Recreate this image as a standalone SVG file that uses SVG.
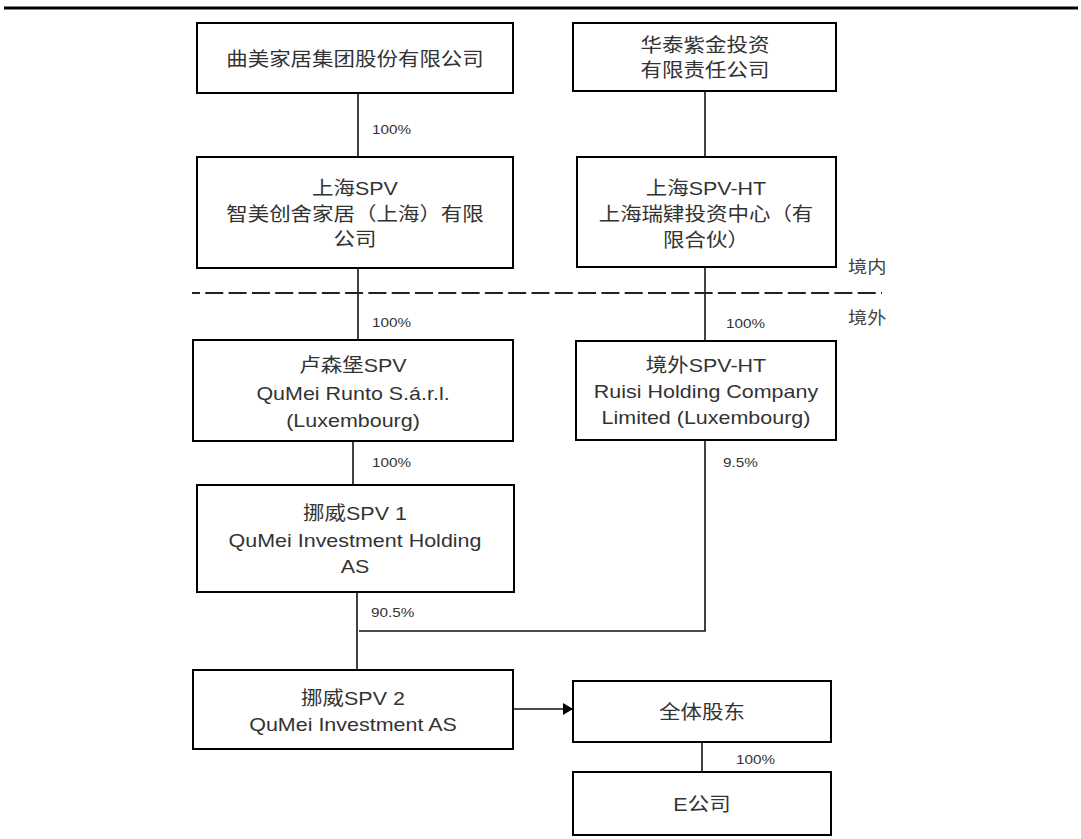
<svg xmlns="http://www.w3.org/2000/svg" width="1081" height="839" viewBox="0 0 1081 839">
<defs>
<style>
.box{fill:#fff;stroke:#000;stroke-width:2}
.ln{fill:none;stroke:#111;stroke-width:1.6}
.t{font-family:"Liberation Sans","Noto Sans CJK SC",sans-serif;font-size:19px;fill:#333;text-anchor:middle}
.p{font-family:"Liberation Sans","Noto Sans CJK SC",sans-serif;font-size:13.5px;fill:#333}
.z{font-family:"Noto Sans CJK SC",sans-serif;font-size:17px;fill:#444}
</style>
<marker id="ah" markerWidth="10" markerHeight="12" refX="10" refY="6" orient="auto" markerUnits="userSpaceOnUse">
<path d="M0,0 L10,6 L0,12 Z" fill="#000"/>
</marker>
</defs>
<rect width="1081" height="839" fill="#fff"/>
<line x1="4" y1="8" x2="1078" y2="8" stroke="#000" stroke-width="3"/>

<g id="connectors">
<line class="ln" x1="358" y1="93" x2="358" y2="157"/>
<line class="ln" x1="705" y1="91" x2="705" y2="157"/>
<line class="ln" x1="358" y1="268" x2="358" y2="340"/>
<line class="ln" x1="705" y1="267" x2="705" y2="341"/>
<line class="ln" x1="353" y1="441" x2="353" y2="485"/>
<polyline class="ln" points="705,440 705,631 359,631"/>
<line class="ln" x1="357" y1="592" x2="357" y2="670"/>
<line class="ln" x1="513" y1="709" x2="573" y2="709" marker-end="url(#ah)"/>
<line class="ln" x1="702" y1="742" x2="702" y2="772"/>
<line x1="192" y1="293" x2="882" y2="293" stroke="#222" stroke-width="2" stroke-dasharray="18 5.3" stroke-dashoffset="10"/>
<text class="p" transform="translate(372,134) scale(1.13,1)">100%</text>
<text class="p" transform="translate(372,327) scale(1.13,1)">100%</text>
<text class="p" transform="translate(726,328) scale(1.13,1)">100%</text>
<text class="p" transform="translate(372,467) scale(1.13,1)">100%</text>
<text class="p" transform="translate(723,467) scale(1.13,1)">9.5%</text>
<text class="p" transform="translate(371,617) scale(1.13,1)">90.5%</text>
<text class="p" transform="translate(736,764) scale(1.13,1)">100%</text>
</g>

<g id="zones">
<text class="z" transform="translate(848,273) scale(1.13,1)">境内</text>
<text class="z" transform="translate(848,324) scale(1.13,1)">境外</text>
</g>

<g id="qumei-group">
<rect class="box" x="197" y="23" width="316" height="70"/>
<text class="t" transform="translate(355,66) scale(1.13,1)">曲美家居集团股份有限公司</text>
</g>

<g id="huatai">
<rect class="box" x="573" y="23" width="263" height="68"/>
<text class="t" transform="translate(705,52) scale(1.13,1)">华泰紫金投资</text>
<text class="t" transform="translate(705,77) scale(1.13,1)">有限责任公司</text>
</g>

<g id="shanghai-spv">
<rect class="box" x="197" y="157" width="316" height="111"/>
<text class="t" transform="translate(355,195) scale(1.13,1)">上海SPV</text>
<text class="t" transform="translate(355,221) scale(1.13,1)">智美创舍家居（上海）有限</text>
<text class="t" transform="translate(355,246) scale(1.13,1)">公司</text>
</g>

<g id="shanghai-spv-ht">
<rect class="box" x="577" y="157" width="259" height="110"/>
<text class="t" transform="translate(706,195) scale(1.13,1)">上海SPV-HT</text>
<text class="t" transform="translate(706,221) scale(1.13,1)">上海瑞肄投资中心（有</text>
<text class="t" transform="translate(706,247) scale(1.13,1)">限合伙）</text>
</g>

<g id="lux-spv">
<rect class="box" x="193" y="340" width="320" height="101"/>
<text class="t" transform="translate(353,372) scale(1.13,1)">卢森堡SPV</text>
<text class="t" transform="translate(353,400) scale(1.13,1)">QuMei Runto S.á.r.l.</text>
<text class="t" transform="translate(353,427) scale(1.13,1)">(Luxembourg)</text>
</g>

<g id="offshore-spv-ht">
<rect class="box" x="576" y="341" width="260" height="99"/>
<text class="t" transform="translate(706,372) scale(1.13,1)">境外SPV-HT</text>
<text class="t" transform="translate(706,398) scale(1.13,1)">Ruisi Holding Company</text>
<text class="t" transform="translate(706,424) scale(1.13,1)">Limited (Luxembourg)</text>
</g>

<g id="norway-spv1">
<rect class="box" x="197" y="485" width="317" height="107"/>
<text class="t" transform="translate(355,520) scale(1.13,1)">挪威SPV 1</text>
<text class="t" transform="translate(355,547) scale(1.13,1)">QuMei Investment Holding</text>
<text class="t" transform="translate(355,573) scale(1.13,1)">AS</text>
</g>

<g id="norway-spv2">
<rect class="box" x="193" y="670" width="320" height="79"/>
<text class="t" transform="translate(353,705) scale(1.13,1)">挪威SPV 2</text>
<text class="t" transform="translate(353,731) scale(1.13,1)">QuMei Investment AS</text>
</g>

<g id="all-shareholders">
<rect class="box" x="573" y="681" width="258" height="61"/>
<text class="t" transform="translate(702,719) scale(1.13,1)">全体股东</text>
</g>

<g id="e-company">
<rect class="box" x="573" y="772" width="258" height="63"/>
<text class="t" transform="translate(702,811) scale(1.13,1)">E公司</text>
</g>
</svg>
